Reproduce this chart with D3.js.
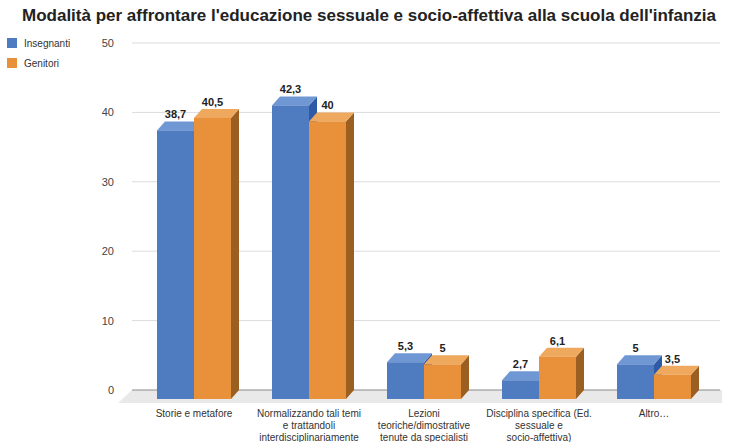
<!DOCTYPE html>
<html>
<head>
<meta charset="utf-8">
<script src="https://cdn.jsdelivr.net/npm/d3@7/dist/d3.min.js"></script>
<style>
  body { margin: 0; background: #fff; }
  svg { font-family: "Liberation Sans", Arial, sans-serif; }
</style>
</head>
<body>
<svg id="chart" width="729" height="442"></svg>
<script>
var categories = ["Storie e metafore", "Normalizzando tali temi e trattandoli interdisciplinariamente",
  "Lezioni teoriche/dimostrative tenute da specialisti", "Disciplina specifica (Ed. sessuale e socio-affettiva)", "Altro..."];
var categoryLines = [
  ["Storie e metafore"],
  ["Normalizzando tali temi", "e trattandoli", "interdisciplinariamente"],
  ["Lezioni", "teoriche/dimostrative", "tenute da specialisti"],
  ["Disciplina specifica (Ed.", "sessuale e", "socio-affettiva)"],
  ["Altro…"]
];
var seriesNames = ["Insegnanti", "Genitori"];
var insegnanti = [38.7, 42.3, 5.3, 2.7, 5];
var genitori = [40.5, 40, 5, 6.1, 3.5];
var yTicks = [0, 10, 20, 30, 40, 50];

var colors = {
  Insegnanti: { front: "#4f7bc1", top: "#6e97d4", side: "#2f5aa8" },
  Genitori: { front: "#e8913a", top: "#eea95f", side: "#9b5f22" }
};

var svg = d3.select("#chart");
var depthX = 8, depthY = 9;

var y = d3.scaleLinear().domain([0, 50]).range([390, 43]);
var x = d3.scaleBand().domain(categories).range([116, 732]).paddingInner(0.3565).paddingOuter(0.3565);
var xs = d3.scaleBand().domain(seriesNames).range([0, x.bandwidth()]);

var fmt = function(v) { return d3.format("~g")(v).replace(".", ","); };

// title
svg.append("text")
  .attr("x", 369).attr("y", 21)
  .attr("text-anchor", "middle")
  .attr("font-size", 17).attr("font-weight", "bold").attr("fill", "#222")
  .text("Modalità per affrontare l'educazione sessuale e socio-affettiva alla scuola dell'infanzia");

// floor
svg.append("polygon")
  .attr("points", [[118, 403], [132, y(0)], [722, y(0)], [722, 403]].map(function(p){ return p.join(","); }).join(" "))
  .attr("fill", "#e9e9e9");

// gridlines
yTicks.forEach(function(t) {
  svg.append("line")
    .attr("x1", 132).attr("x2", 720)
    .attr("y1", y(t)).attr("y2", y(t))
    .attr("stroke", t === 0 ? "#8a8a8a" : "#dcdcdc").attr("stroke-width", 1);
  svg.append("text")
    .attr("x", 114).attr("y", y(t) + 4)
    .attr("text-anchor", "end").attr("font-size", 11).attr("fill", "#444")
    .text(t);
});

// bars
var series = [insegnanti, genitori];
categories.forEach(function(c, i) {
  seriesNames.forEach(function(s, j) {
    var v = series[j][i];
    var x0 = x(c) + xs(s), x1 = x0 + xs.bandwidth();
    var yb = y(0) + depthY, yt = y(v) + depthY;
    var col = colors[s];
    var g = svg.append("g");
    // side
    g.append("polygon")
      .attr("points", [[x1, yt], [x1 + depthX, y(v)], [x1 + depthX, y(0)], [x1, yb]].join(" "))
      .attr("fill", col.side);
    // top
    g.append("polygon")
      .attr("points", [[x0, yt], [x0 + depthX, y(v)], [x1 + depthX, y(v)], [x1, yt]].join(" "))
      .attr("fill", col.top);
    // front
    g.append("rect")
      .attr("x", x0).attr("y", yt)
      .attr("width", x1 - x0).attr("height", yb - yt)
      .attr("fill", col.front);
    g.append("text")
      .attr("x", (x0 + x1) / 2).attr("y", y(v) - 3)
      .attr("text-anchor", "middle").attr("font-size", 11).attr("font-weight", "bold").attr("fill", "#222")
      .text(fmt(v));
  });
  // category label
  var t = svg.append("text")
    .attr("text-anchor", "middle").attr("font-size", 10).attr("fill", "#333");
  categoryLines[i].forEach(function(line, k) {
    t.append("tspan")
      .attr("x", x(c) + x.bandwidth() / 2)
      .attr("y", 417 + k * 12)
      .text(line);
  });
});

// legend
seriesNames.forEach(function(s, j) {
  svg.append("rect")
    .attr("x", 7).attr("y", 38 + j * 20)
    .attr("width", 10).attr("height", 10)
    .attr("fill", colors[s].front);
  svg.append("text")
    .attr("x", 24).attr("y", 47 + j * 20)
    .attr("font-size", 10).attr("fill", "#333")
    .text(s);
});
</script>
</body>
</html>
